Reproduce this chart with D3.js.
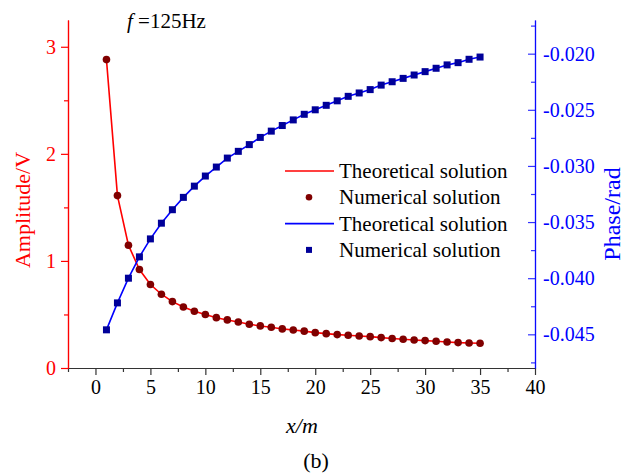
<html>
<head>
<meta charset="utf-8">
<script src="https://d3js.org/d3.v7.min.js"></script>
<style>
  body { margin: 0; background: #fff; }
  svg text { font-family: "Liberation Serif", "Times New Roman", serif !important; }
</style>
</head>
<body>
<script>
  // distance along the line, m
  var xs = d3.range(1, 36);
  var amplitude = [2.88, 1.61, 1.147, 0.92, 0.78, 0.689, 0.62, 0.57, 0.53, 0.50,
                   0.47, 0.449, 0.43, 0.408, 0.393, 0.38, 0.365, 0.355, 0.344, 0.330,
                   0.321, 0.312, 0.306, 0.299, 0.293, 0.284, 0.275, 0.268, 0.262, 0.256,
                   0.250, 0.243, 0.237, 0.234, 0.231];
  var phase = [-0.0446, -0.0422, -0.0400, -0.0381, -0.0365, -0.0351, -0.0339, -0.0328, -0.0318, -0.0309,
               -0.0301, -0.0293, -0.0287, -0.0281, -0.02746, -0.0269, -0.0264, -0.0259, -0.0254, -0.0250,
               -0.0246, -0.0242, -0.0238, -0.0235, -0.0232, -0.0228, -0.0225, -0.0222, -0.0219, -0.0216,
               -0.0213, -0.0210, -0.0208, -0.0205, -0.0203];
  var xTicks = [0, 5, 10, 15, 20, 25, 30, 35, 40];
  var ampTicks = [0, 1, 2, 3];
  var phaseTicks = [-0.045, -0.040, -0.035, -0.030, -0.025, -0.020];
  var legendLabels = ["Theoretical solution", "Numerical solution", "Theoretical solution", "Numerical solution"];

  var width = 625, height = 475;
  var red = "#ff0000", blue = "#0000ff", darkRed = "#800000", navy = "#000099";
  var serif = "'Liberation Serif', 'Times New Roman', serif";

  var x = d3.scaleLinear().domain([-2.5, 40]).range([68, 535]);
  var yL = d3.scaleLinear().domain([0, 3.25]).range([368, 20]);
  var yR = d3.scaleLinear().domain([-0.048, -0.017]).range([368, 20]);

  var svg = d3.select("body").append("svg")
      .attr("width", width)
      .attr("height", height)
      .style("font-family", serif);

  // minor ticks first, majors drawn on top
  function minor(axis) { return axis.tickSizeOuter(0).tickFormat(""); }

  // bottom axis
  svg.append("g").attr("transform", "translate(0,368)")
      .call(minor(d3.axisBottom(x).tickValues(d3.range(-2.5, 40, 5)).tickSizeInner(4)));
  var gx = svg.append("g").attr("transform", "translate(0,368)")
      .call(d3.axisBottom(x).tickValues(xTicks).tickSizeInner(7).tickSizeOuter(0).tickPadding(5));
  svg.selectAll("g").selectAll(".domain, line").attr("stroke", "#333").attr("stroke-width", 1.2);
  gx.selectAll("text").attr("font-size", 20).attr("fill", "#000");

  // left axis (amplitude)
  svg.append("g").attr("transform", "translate(68,0)")
      .call(minor(d3.axisLeft(yL).tickValues([0.5, 1.5, 2.5]).tickSizeInner(4)))
      .selectAll(".domain, line").attr("stroke", red).attr("stroke-width", 1.2);
  var gl = svg.append("g").attr("transform", "translate(68,0)")
      .call(d3.axisLeft(yL).tickValues(ampTicks).tickSizeInner(7).tickSizeOuter(0).tickPadding(5)
        .tickFormat(d3.format("d")));
  gl.selectAll(".domain, line").attr("stroke", red).attr("stroke-width", 1.2);
  gl.selectAll("text").attr("font-size", 20).attr("fill", red);

  // right axis (phase), ticks point inward
  svg.append("g").attr("transform", "translate(535,0)")
      .call(minor(d3.axisLeft(yR).tickValues(d3.range(-0.0475, -0.017, 0.005)).tickSizeInner(4)))
      .selectAll(".domain, line").attr("stroke", blue).attr("stroke-width", 1.2).attr("stroke-opacity", 0.8);
  var gr = svg.append("g").attr("transform", "translate(535,0)")
      .call(d3.axisLeft(yR).tickValues(phaseTicks).tickSizeInner(7).tickSizeOuter(0)
        .tickFormat(function(d){ return d.toFixed(3); }));
  gr.selectAll(".domain, line").attr("stroke", blue).attr("stroke-width", 1.2).attr("stroke-opacity", 0.8);
  gr.selectAll("text").attr("font-size", 20).attr("fill", blue)
      .attr("text-anchor", "start").attr("x", 8);

  svg.selectAll("g").attr("font-family", serif);

  // curves
  var ampLine = d3.line().x(function(d, i){ return x(xs[i]); }).y(function(d){ return yL(d); });
  var phaseLine = d3.line().x(function(d, i){ return x(xs[i]); }).y(function(d){ return yR(d); });

  svg.append("path").datum(amplitude).attr("d", ampLine)
      .attr("fill", "none").attr("stroke", red).attr("stroke-width", 1.6);
  svg.append("path").datum(phase).attr("d", phaseLine)
      .attr("fill", "none").attr("stroke", blue).attr("stroke-width", 1.6);

  svg.selectAll(".dot").data(amplitude).enter().append("circle")
      .attr("cx", function(d, i){ return x(xs[i]); })
      .attr("cy", function(d){ return yL(d); })
      .attr("r", 3.8).attr("fill", darkRed);

  svg.selectAll(".sq").data(phase).enter().append("rect")
      .attr("x", function(d, i){ return x(xs[i]) - 3.5; })
      .attr("y", function(d){ return yR(d) - 3.5; })
      .attr("width", 7).attr("height", 7).attr("fill", navy);

  // legend
  var legend = svg.append("g").attr("transform", "translate(285,171)");
  legendLabels.forEach(function(label, i) {
    var g = legend.append("g").attr("transform", "translate(0," + (i * 26.3) + ")");
    if (i % 2 == 0) {
      g.append("line").attr("x1", 0).attr("x2", 49).attr("y1", 0).attr("y2", 0)
        .attr("stroke", i == 0 ? red : blue).attr("stroke-width", 1.6);
    } else if (i == 1) {
      g.append("circle").attr("cx", 24).attr("cy", 0).attr("r", 3.3).attr("fill", darkRed);
    } else {
      g.append("rect").attr("x", 21).attr("y", -3).attr("width", 6).attr("height", 6).attr("fill", navy);
    }
    g.append("text").attr("x", 54).attr("y", 7).attr("font-size", 21).attr("fill", "#000").text(label);
  });

  // titles
  svg.append("text").attr("transform", "translate(30,210) rotate(-90)")
      .attr("text-anchor", "middle").attr("font-size", 22).attr("fill", red).text("Amplitude/V");
  svg.append("text").attr("transform", "translate(620,214) rotate(-90)")
      .attr("text-anchor", "middle").attr("font-size", 24).attr("fill", blue).text("Phase/rad");

  svg.append("text").attr("x", 302).attr("y", 433).attr("text-anchor", "middle")
      .attr("font-size", 22).attr("font-style", "italic").text("x/m");
  svg.append("text").attr("x", 316).attr("y", 468).attr("text-anchor", "middle")
      .attr("font-size", 22).text("(b)");

  var ft = svg.append("text").attr("x", 127).attr("y", 28).attr("font-size", 21);
  ft.append("tspan").attr("font-style", "italic").text("f");
  ft.append("tspan").text(" =125Hz");
</script>
</body>
</html>
